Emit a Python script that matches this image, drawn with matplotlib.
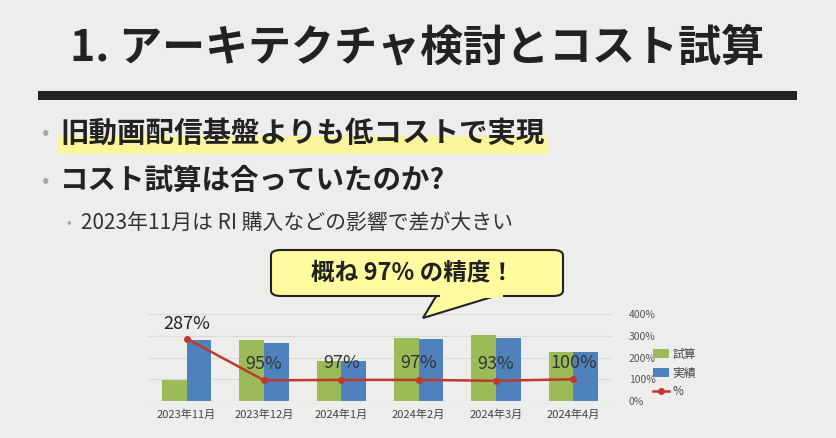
import matplotlib
matplotlib.use("Agg")
import matplotlib.pyplot as plt
import numpy as np
from matplotlib.patches import FancyBboxPatch, Polygon, Rectangle

plt.rcParams['font.family'] = ['Noto Sans CJK JP', 'DejaVu Sans']

months = ["2023年11月", "2023年12月", "2024年1月", "2024年2月", "2024年3月", "2024年4月"]
estimate = [95, 282, 186, 291, 305, 227]
actual = [282, 268, 182, 286, 291, 227]
ratio = [287, 95, 97, 97, 93, 100]
ratio_labels = ["287%", "95%", "97%", "97%", "93%", "100%"]
yticks = [0, 100, 200, 300, 400]

W, H = 836, 438
bg = "#EDEEEB"
fig = plt.figure(figsize=(W/100, H/100), dpi=100, facecolor=bg)

def fx(x): return x / W
def fy(y): return 1 - y / H

# title
fig.text(fx(417), fy(48), "1. アーキテクチャ検討とコスト試算", ha="center", va="center",
         fontsize=31, fontweight="bold", color="#222222")
fig.add_artist(Rectangle((fx(38), fy(100)), fx(797) - fx(38), 9/H, transform=fig.transFigure,
                         facecolor="#222222", edgecolor="none"))

# highlight
fig.add_artist(Rectangle((fx(58), fy(154)), fx(548) - fx(58), 18/H, transform=fig.transFigure,
                         facecolor="#F8F59A", edgecolor="none"))
fig.text(fx(42), fy(134), "•", ha="left", va="center", fontsize=16, color="#AAAAAA")
fig.text(fx(60), fy(134), "旧動画配信基盤よりも低コストで実現", ha="left", va="center",
         fontsize=20.5, fontweight="bold", color="#222222")
fig.text(fx(42), fy(181), "•", ha="left", va="center", fontsize=16, color="#AAAAAA")
fig.text(fx(60), fy(181), "コスト試算は合っていたのか?", ha="left", va="center",
         fontsize=20.5, fontweight="bold", color="#222222")
fig.text(fx(66), fy(223), "•", ha="left", va="center", fontsize=10, color="#AAAAAA")
fig.text(fx(81), fy(223), "2023年11月は RI 購入などの影響で差が大きい", ha="left", va="center",
         fontsize=15, color="#333333")

# chart
ax = fig.add_axes([fx(148), fy(401), fx(612) - fx(148), (401 - 314) / H])
ax.set_facecolor(bg)
x = np.arange(len(months))
w = 0.32
ax.bar(x - w/2, estimate, w, color="#9BBB59", label="試算", zorder=2)
ax.bar(x + w/2, actual, w, color="#4F81BD", label="実績", zorder=2)
ax.plot(x, ratio, color="#C0392B", marker="o", markersize=4, lw=1.8, label="%", zorder=3)
for xi, r, lab in zip(x, ratio, ratio_labels):
    if r > 200:
        ax.text(xi, r + 25, lab, ha="center", va="bottom", fontsize=13, color="#222222", zorder=4)
    else:
        ax.text(xi, r + 77, lab, ha="center", va="center", fontsize=13, color="#333333", zorder=4)
ax.set_ylim(0, 400)
ax.set_xlim(-0.5, len(months) - 0.5)
ax.set_yticks(yticks)
ax.set_yticklabels([f"{t}%" for t in yticks], fontsize=7.5, color="#555555")
ax.yaxis.tick_right()
ax.tick_params(axis="y", length=0, pad=12)
ax.set_xticks(x)
ax.set_xticklabels(months, fontsize=8, color="#444444")
ax.tick_params(axis="x", length=0, pad=6)
ax.grid(axis="y", color="#DADADA", lw=0.8, zorder=0)
for s in ax.spines.values():
    s.set_visible(False)
ax.axhline(0, color="#D0D0D0", lw=0.8)
handles, labels = ax.get_legend_handles_labels()
order = [1, 2, 0]
leg = fig.legend([handles[i] for i in order], [labels[i] for i in order],
                 loc="upper left", bbox_to_anchor=(fx(642), fy(337)), frameon=False,
                 fontsize=8.5, handlelength=1.4, labelspacing=0.5, handletextpad=0.3)
for t in leg.get_texts():
    t.set_color("#444444")

# callout
fig.add_artist(Polygon([(fx(423), fy(318)), (fx(438), fy(293)), (fx(505), fy(293))],
                       closed=True, transform=fig.transFigure, facecolor="#FFFB9E",
                       edgecolor="#222222", lw=1.5, zorder=5))
fig.add_artist(FancyBboxPatch((fx(271), fy(296)), fx(563) - fx(271), 46/H,
                              boxstyle="round,pad=0,rounding_size=0.012",
                              transform=fig.transFigure, facecolor="#FFFB9E",
                              edgecolor="#222222", lw=1.5, zorder=6))
fig.add_artist(Rectangle((fx(440), fy(297.5)), fx(503) - fx(440), 4/H, transform=fig.transFigure,
                         facecolor="#FFFB9E", edgecolor="none", zorder=7))
fig.text(fx(413), fy(272), "概ね 97% の精度！", ha="center", va="center", fontsize=17,
         fontweight="bold", color="#222222", zorder=8)

fig.savefig("out.png", dpi=100, facecolor=bg)
